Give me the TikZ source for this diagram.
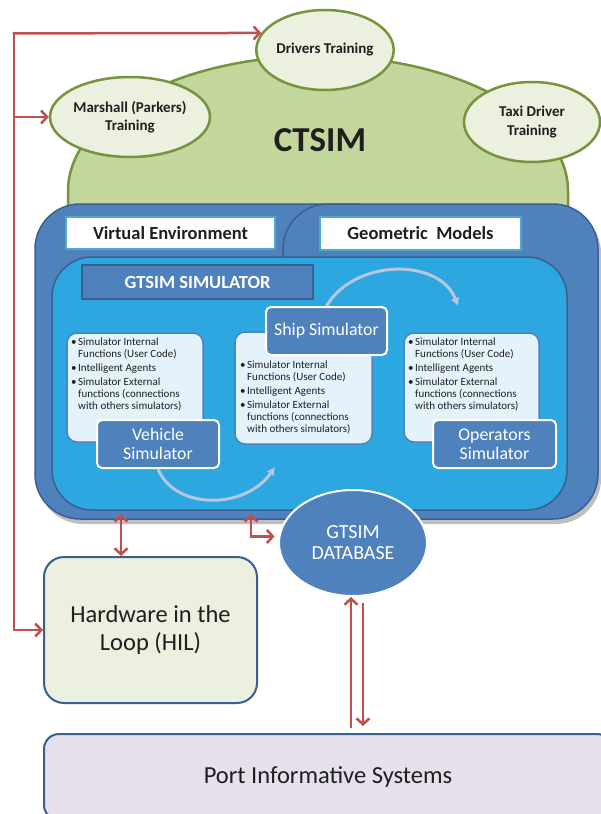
\documentclass[tikz,border=0pt]{standalone}
\usepackage{fontspec}
\setmainfont{Carlito}
\usetikzlibrary{arrows.meta,shapes.geometric}
\definecolor{domefill}{HTML}{C3D69B}
\definecolor{domeline}{HTML}{77933C}
\definecolor{palegreen}{HTML}{EBF1DE}
\definecolor{blueA}{HTML}{4F81BD}
\definecolor{blueline}{HTML}{3B5F8E}
\definecolor{cyanA}{HTML}{2CA7DF}
\definecolor{tealline}{HTML}{4BACC6}
\definecolor{boxfill}{HTML}{E4F2FB}
\definecolor{arcgray}{HTML}{B8C6DE}
\definecolor{redA}{HTML}{C0504D}
\definecolor{lavender}{HTML}{E5E0EC}
\definecolor{txt}{HTML}{1F1F1F}
\begin{document}
\begin{tikzpicture}[x=1pt,y=-1pt,
  trainell/.style={ellipse, draw=domeline, line width=2.5pt, fill=palegreen, minimum width=136pt, minimum height=80pt, inner sep=0pt, align=center, font=\fontsize{15}{18.5}\selectfont\bfseries, text=txt},
  labelbox/.style={draw=tealline, line width=2pt, fill=white, font=\fontsize{18.5}{20}\selectfont\bfseries, text=txt, inner sep=0pt},
  simnode/.style={draw=white, line width=2pt, fill=blueA, rounded corners=5pt, text=white, align=center, font=\fontsize{17.8}{19}\selectfont, inner sep=0pt},
  infobox/.style={draw=blueA, line width=1.5pt, fill=boxfill, rounded corners=10pt, inner sep=0pt},
  infotext/.style={anchor=north west, inner sep=0pt, font=\fontsize{11}{12}\selectfont, text=txt},
  redarrow/.style={draw=redA, line width=2.5pt, line cap=rect, -{Straight Barb[length=6pt,width=13pt]}},
  redboth/.style={draw=redA, line width=2.5pt, {Straight Barb[length=6pt,width=13pt]}-{Straight Barb[length=6pt,width=13pt]}},
  arcarrow/.style={draw=arcgray, line width=3pt, -{Latex[length=8pt,width=9pt]}}
]
\clip (0,0) rectangle (601,814);
\fill[white] (0,0) rectangle (601,814);

% CTSIM dome
\draw[fill=domefill, draw=domeline, line width=2.5pt] (68,260) -- (68,191) arc[start angle=180,end angle=0,x radius=250pt,y radius=135pt] -- (568,260);
\node[font=\fontsize{35}{38}\selectfont\bfseries, text=txt] (ctsim) at (320,140) {CTSIM};

% training ellipses
\node[trainell] (drivers) at (325,50) {Drivers Training};
\node[trainell] (marshall) at (130,117) {Marshall (Parkers)\\Training};
\node[trainell] (taxi) at (532,122) {Taxi Driver\\Training};

% blue container
\fill[black, opacity=0.25, rounded corners=45pt] (38,208) rectangle (601,524);
\draw[fill=blueA, draw=blueline, line width=1.5pt, rounded corners=45pt] (35,204) rectangle (400,519);
\fill[blueA] (283,519) -- (283,249) arc[start angle=180,end angle=90,radius=45pt] -- (553,204) arc[start angle=90,end angle=0,radius=45pt] -- (598,474) arc[start angle=0,end angle=-90,radius=45pt] -- cycle;
\draw[blueline, line width=1.5pt] (283,262) -- (283,249) arc[start angle=180,end angle=90,radius=45pt] -- (553,204) arc[start angle=90,end angle=0,radius=45pt] -- (598,474) arc[start angle=0,end angle=-90,radius=45pt] -- (283,519);
\draw[fill=cyanA, draw=blueline, line width=1.5pt, rounded corners=40pt] (52,257) rectangle (567,510);

\node[labelbox, minimum width=209pt, minimum height=32pt] (ve) at (170.5,233) {Virtual Environment};
\node[labelbox, minimum width=201pt, minimum height=33pt] (gm) at (420.5,233.5) {Geometric\hspace{0.45em}Models};
\node[draw=blueline, line width=1.5pt, fill=blueA, text=white, font=\fontsize{18.5}{20}\selectfont\bfseries, minimum width=231pt, minimum height=34pt, inner sep=0pt] (gs) at (197.5,282) {GTSIM SIMULATOR};

% info boxes
\node[infobox, minimum width=136pt, minimum height=109pt] (ib1) at (135,387.5) {};
\node[infobox, minimum width=137pt, minimum height=112pt] (ib2) at (303.5,388) {};
\node[infobox, minimum width=135pt, minimum height=109pt] (ib3) at (471.5,387.5) {};

\node[infotext] (t1) at (71,337) {\begin{tabular}{@{}l@{\hspace{1.5pt}}l@{}}•&Simulator Internal\\&Functions (User Code)\\[2pt]•&Intelligent Agents\\[2pt]•&Simulator External\\&functions (connections\\&with others simulators)\end{tabular}};
\node[infotext] (t2) at (240,360) {\begin{tabular}{@{}l@{\hspace{1.5pt}}l@{}}•&Simulator Internal\\&Functions (User Code)\\[2pt]•&Intelligent Agents\\[2pt]•&Simulator External\\&functions (connections\\&with others simulators)\end{tabular}};
\node[infotext] (t3) at (408,337) {\begin{tabular}{@{}l@{\hspace{1.5pt}}l@{}}•&Simulator Internal\\&Functions (User Code)\\[2pt]•&Intelligent Agents\\[2pt]•&Simulator External\\&functions (connections\\&with others simulators)\end{tabular}};

% simulators
\node[simnode, minimum width=122pt, minimum height=48pt] (vehicle) at (158,444) {Vehicle\\Simulator};
\node[simnode, minimum width=121pt, minimum height=48pt] (ship) at (326.5,331) {Ship Simulator};
\node[simnode, minimum width=123pt, minimum height=48pt] (operators) at (494.5,444) {Operators\\Simulator};

\coordinate (a1) at (275,467);
\draw[arcarrow] (vehicle.south) .. controls (175,510) and (245,510) .. (a1);
\coordinate (a2) at (458,306);
\draw[arcarrow] (ship.north) .. controls (355,258) and (440,258) .. (a2);

% database, HIL, port
\node[ellipse, draw=white, line width=2pt, fill=blueA, minimum width=148pt, minimum height=106pt, inner sep=0pt, text=white, align=center, font=\fontsize{20}{21}\selectfont] (db) at (353,543) {GTSIM\\DATABASE};
\node[draw=blueline, line width=2pt, fill=palegreen, rounded corners=20pt, minimum width=213pt, minimum height=146pt, align=center, font=\fontsize{24.5}{28}\selectfont, text=txt] (hil) at (150.5,630) {Hardware in the\\Loop (HIL)};
\node[draw=blueline, line width=2pt, fill=lavender, rounded corners=15pt, minimum width=568pt, minimum height=86pt, font=\fontsize{24.5}{26}\selectfont, text=txt] (port) at (328,777) {Port Informative Systems};

% red connectors
\coordinate (lt) at (14,33.4);
\draw[redarrow] (lt) -- (drivers.165);
\draw[redarrow] (lt |- marshall.west) -- (marshall.west);
\draw[redarrow] (lt) |- (hil.west);
\coordinate (b1) at (121,514);
\draw[redboth] (b1) -- (b1 |- hil.north);
\coordinate (b2) at (251,514);
\draw[redboth, shorten >=4pt] (b2) |- (db.175);
\coordinate (p1) at (351,727);
\draw[redarrow] (p1) -- (p1 |- db.south);
\coordinate (p2) at (363,604);
\draw[redarrow, shorten >=7pt] (p2) -- (p2 |- port.north);
\end{tikzpicture}
\end{document}
